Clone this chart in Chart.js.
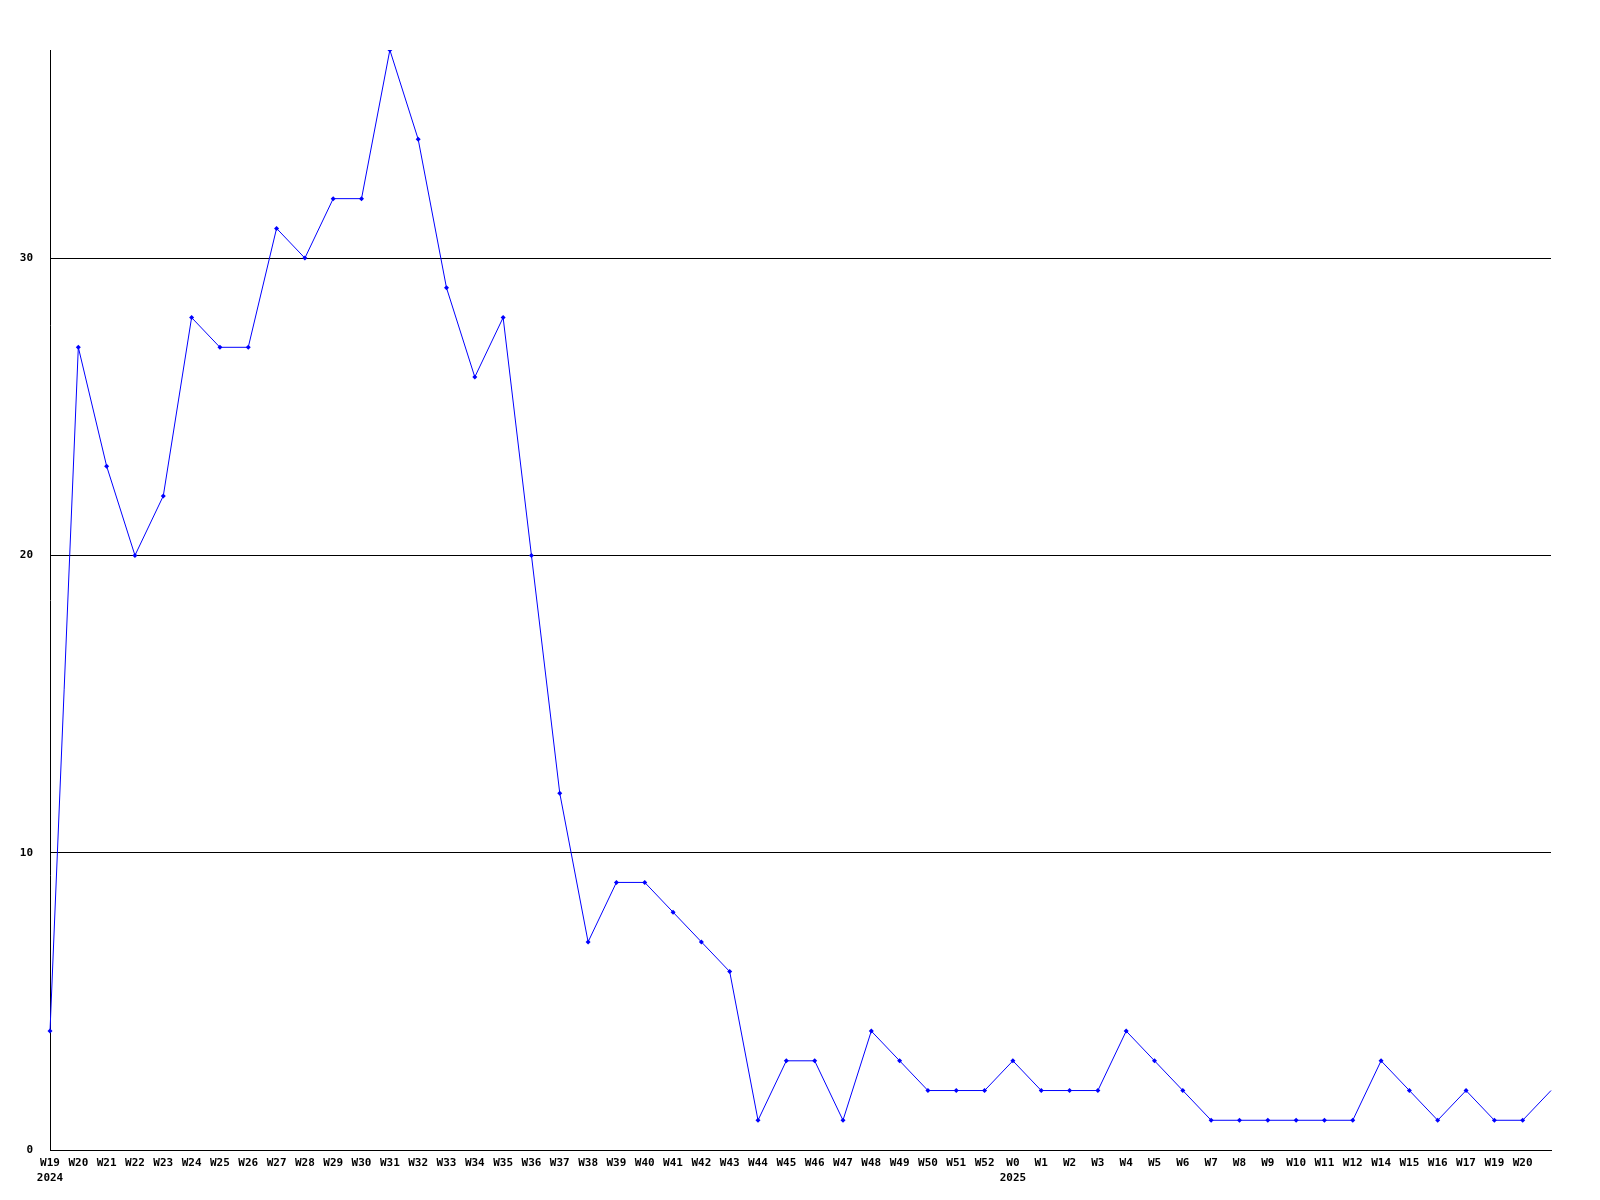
<!DOCTYPE html>
<html>
<head>
<meta charset="utf-8">
<script src="https://cdn.jsdelivr.net/npm/chart.js@4/dist/chart.umd.min.js"></script>
<style>
  html, body { margin: 0; padding: 0; background: #fff; }
  #wrap { width: 1600px; height: 1200px; }
</style>
</head>
<body>
<div id="wrap"><canvas id="chart" width="1600" height="1200"></canvas></div>
<script>
// week labels (second line = year, only where the year starts)
const weeks2024 = ["W19", "W20", "W21", "W22", "W23", "W24", "W25", "W26", "W27", "W28",
  "W29", "W30", "W31", "W32", "W33", "W34", "W35", "W36", "W37", "W38", "W39", "W40",
  "W41", "W42", "W43", "W44", "W45", "W46", "W47", "W48", "W49", "W50", "W51", "W52"]
const weeks2025 = ["W0", "W1", "W2", "W3", "W4", "W5", "W6", "W7", "W8", "W9", "W10",
  "W11", "W12", "W14", "W15", "W16", "W17", "W19", "W20", ""]

const values2024 = [4, 27, 23, 20, 22, 28, 27, 27, 31, 30, 32, 32, 37, 34, 29, 26, 28, 20,
  12, 7, 9, 9, 8, 7, 6, 1, 3, 3, 1, 4, 3, 2, 2, 2]
const values2025 = [3, 2, 2, 2, 4, 3, 2, 1, 1, 1, 1, 1, 1, 3, 2, 1, 2, 1, 1, 2]

const yTicks = [0, 10, 20, 30]

const labels = [
  ...weeks2024.map((w, i) => i === 0 ? [w, "2024"] : w),
  ...weeks2025.map((w, i) => i === 0 ? [w, "2025"] : w)
]
const values = [...values2024, ...values2025]

const font = { family: "'DejaVu Sans Mono', monospace", size: 11, weight: "bold", lineHeight: 1.35 }

new Chart(document.getElementById("chart"), {
  type: "line",
  data: {
    labels: labels,
    datasets: [{
      data: values,
      borderColor: "#0000ff",
      backgroundColor: "#0000ff",
      borderWidth: 1,
      tension: 0,
      fill: false,
      pointStyle: "rectRot",
      pointRadius: values.map((v, i) => i === values.length - 1 ? 0 : 2.5),
      pointBorderWidth: 0
    }]
  },
  options: {
    responsive: false,
    animation: false,
    layout: { padding: { left: 0, right: 49, top: 50, bottom: 0 } },
    plugins: {
      legend: { display: false },
      tooltip: { enabled: false }
    },
    scales: {
      x: {
        type: "category",
        offset: false,
        grid: { display: false },
        border: { display: true, color: "#000", width: 1 },
        ticks: {
          color: "#000",
          font: font,
          autoSkip: false,
          maxRotation: 0,
          minRotation: 0,
          padding: -2
        },
        afterFit: (scale) => { scale.height = 50 }
      },
      y: {
        min: 0,
        max: 37,
        afterBuildTicks: (scale) => { scale.ticks = yTicks.map(v => ({ value: v })) },
        grid: { color: "#000", lineWidth: 1, drawTicks: false },
        border: { display: true, color: "#000", width: 1 },
        ticks: {
          color: "#000",
          font: font,
          padding: 17
        },
        afterFit: (scale) => { scale.width = 50 }
      }
    }
  }
})
</script>
</body>
</html>
